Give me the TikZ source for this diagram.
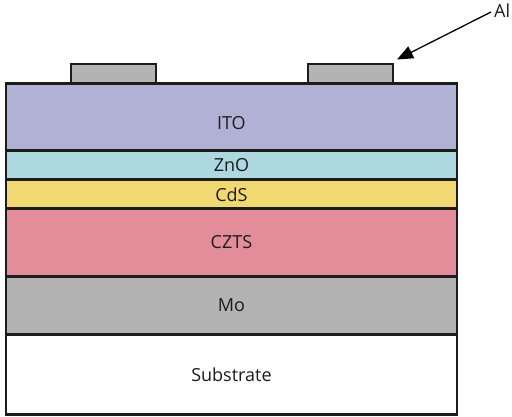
\documentclass[tikz,border=0pt]{standalone}
\usepackage{fontspec}
\setmainfont{Open Sans}
\usetikzlibrary{arrows.meta}
\definecolor{itoc}{HTML}{B1B1D6}
\definecolor{znoc}{HTML}{ADD8E0}
\definecolor{cdsc}{HTML}{F2D872}
\definecolor{cztsc}{HTML}{E38C9A}
\definecolor{moc}{HTML}{B3B3B3}
\definecolor{edgec}{HTML}{1C1C1C}
\tikzset{
  layer/.style={draw=edgec, line width=2.9pt, inner sep=0pt, rectangle, anchor=north west},
  contact/.style={draw=edgec, fill=moc, line width=2pt, inner sep=0pt, rectangle, anchor=north west},
  lbl/.style={font=\fontsize{18}{20}\selectfont, inner sep=0pt, text=edgec}
}
\begin{document}
\begin{tikzpicture}[x=1pt,y=-1pt]
\useasboundingbox (0,0) rectangle (512,416);
% contacts
\node[contact, minimum width=85pt, minimum height=20pt] (c1) at (70,62.5) {};
\node[contact, minimum width=85pt, minimum height=20pt] (c2) at (307,62.5) {};
% layers
\node[layer, fill=itoc, minimum width=451pt, minimum height=67pt] (ito) at (4.5,82) {};
\node[layer, fill=znoc, minimum width=451pt, minimum height=29pt] (zno) at (4.5,149) {};
\node[layer, fill=cdsc, minimum width=451pt, minimum height=29pt] (cds) at (4.5,178) {};
\node[layer, fill=cztsc, minimum width=451pt, minimum height=68pt] (czts) at (4.5,207) {};
\node[layer, fill=moc, minimum width=451pt, minimum height=58pt] (mo) at (4.5,275) {};
\node[layer, fill=white, minimum width=451pt, minimum height=80pt] (sub) at (4.5,333) {};
% labels
\node[lbl] (tito) at ([yshift=-6pt]ito.center) {ITO};
\node[lbl] (tzno) at (zno.center) {ZnO};
\node[lbl] (tcds) at ([yshift=-1pt]cds.center) {CdS};
\node[lbl] (tczts) at (czts.center) {CZTS};
\node[lbl] (tmo) at (mo.center) {Mo};
\node[lbl] (tsub) at (sub.center) {Substrate};
% Al label and arrow
\node[lbl, anchor=west] (al) at (494,11) {Al};
\coordinate (tip) at (397,59.5);
\draw[line width=1.3pt, -{Triangle[length=16pt,width=13pt]}] (al.west) ++(-3,1) -- (tip);
\end{tikzpicture}
\end{document}
